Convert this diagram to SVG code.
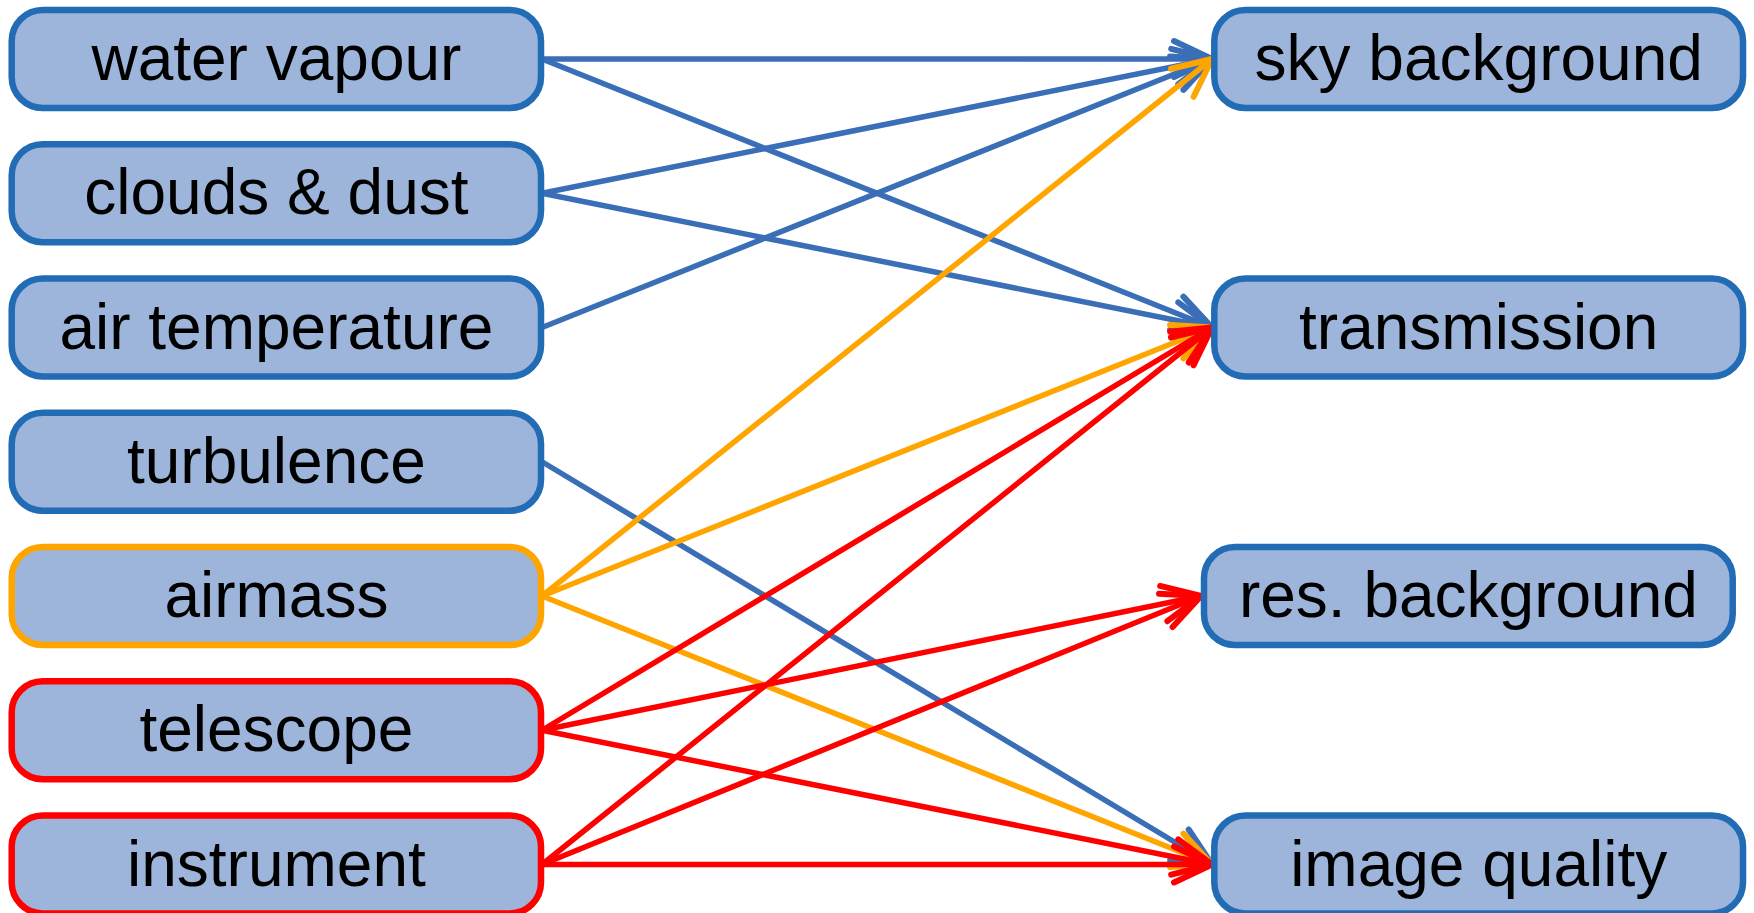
<svg xmlns="http://www.w3.org/2000/svg" width="1754" height="913" viewBox="0 0 1754 913">
<style>
.box{fill:#9db5da;stroke-width:6.5}
.b{stroke:#226bb5}
.o{stroke:#ffa500}
.r{stroke:#ff0000}
.t{font-family:"Liberation Sans",Arial,sans-serif;font-size:64px;fill:#000;text-anchor:middle}
.c{fill:none;stroke-width:5.5;stroke-linecap:round}
.cb{stroke:#3a6fb7;marker-end:url(#mb)}
.co{stroke:#ffa500;marker-end:url(#mo)}
.cr{stroke:#ff0000;marker-end:url(#mr)}
.ah{fill:none;stroke-width:6;stroke-linecap:round;stroke-linejoin:round}
</style>
<defs>
<marker id="mb" markerUnits="userSpaceOnUse" orient="auto" markerWidth="60" markerHeight="60" viewBox="-50 -30 60 60" refX="0" refY="0"><path class="ah" stroke="#3a6fb7" d="M-38,-18 L0,0 L-38,18"/></marker>
<marker id="mo" markerUnits="userSpaceOnUse" orient="auto" markerWidth="60" markerHeight="60" viewBox="-50 -30 60 60" refX="0" refY="0"><path class="ah" stroke="#ffa500" d="M-38,-18 L0,0 L-38,18"/></marker>
<marker id="mr" markerUnits="userSpaceOnUse" orient="auto" markerWidth="60" markerHeight="60" viewBox="-50 -30 60 60" refX="0" refY="0"><path class="ah" stroke="#ff0000" d="M-38,-18 L0,0 L-38,18"/></marker>
</defs>
<g id="connectors">
<line class="c cb" x1="542" y1="59" x2="1212" y2="59"/>
<line class="c cb" x1="542" y1="59" x2="1212" y2="327.5"/>
<line class="c cb" x1="542" y1="193.25" x2="1212" y2="59"/>
<line class="c cb" x1="542" y1="193.25" x2="1212" y2="327.5"/>
<line class="c cb" x1="542" y1="327.5" x2="1212" y2="59"/>
<line class="c cb" x1="542" y1="461.75" x2="1212" y2="864.5"/>
<line class="c co" x1="542" y1="596" x2="1212" y2="59"/>
<line class="c co" x1="542" y1="596" x2="1212" y2="327.5"/>
<line class="c co" x1="542" y1="596" x2="1212" y2="864.5"/>
<line class="c cr" x1="542" y1="730.25" x2="1212" y2="327.5"/>
<line class="c cr" x1="542" y1="730.25" x2="1201" y2="596"/>
<line class="c cr" x1="542" y1="730.25" x2="1212" y2="864.5"/>
<line class="c cr" x1="542" y1="864.5" x2="1212" y2="327.5"/>
<line class="c cr" x1="542" y1="864.5" x2="1201" y2="596"/>
<line class="c cr" x1="542" y1="864.5" x2="1212" y2="864.5"/>
</g>
<g id="water-vapour"><rect class="box b" x="11.7" y="10" width="529.3" height="98" rx="31"/><text class="t" x="276.4" y="80">water vapour</text></g>
<g id="clouds-dust"><rect class="box b" x="11.7" y="144.25" width="529.3" height="98" rx="31"/><text class="t" x="276.4" y="214.25">clouds &amp; dust</text></g>
<g id="air-temperature"><rect class="box b" x="11.7" y="278.5" width="529.3" height="98" rx="31"/><text class="t" x="276.4" y="348.5">air temperature</text></g>
<g id="turbulence"><rect class="box b" x="11.7" y="412.75" width="529.3" height="98" rx="31"/><text class="t" x="276.4" y="482.75">turbulence</text></g>
<g id="airmass"><rect class="box o" x="11.7" y="547" width="529.3" height="98" rx="31"/><text class="t" x="276.4" y="617">airmass</text></g>
<g id="telescope"><rect class="box r" x="11.7" y="681.25" width="529.3" height="98" rx="31"/><text class="t" x="276.4" y="751.25">telescope</text></g>
<g id="instrument"><rect class="box r" x="11.7" y="815.5" width="529.3" height="98" rx="31"/><text class="t" x="276.4" y="885.5">instrument</text></g>
<g id="sky-background"><rect class="box b" x="1214.3" y="10" width="528.7" height="98" rx="31"/><text class="t" x="1478.7" y="80">sky background</text></g>
<g id="transmission"><rect class="box b" x="1214.3" y="278.5" width="528.7" height="98" rx="31"/><text class="t" x="1478.7" y="348.5">transmission</text></g>
<g id="res-background"><rect class="box b" x="1204" y="547" width="528.7" height="98" rx="31"/><text class="t" x="1468.4" y="617">res. background</text></g>
<g id="image-quality"><rect class="box b" x="1214.3" y="815.5" width="528.7" height="98" rx="31"/><text class="t" x="1478.7" y="885.5">image quality</text></g>
</svg>
